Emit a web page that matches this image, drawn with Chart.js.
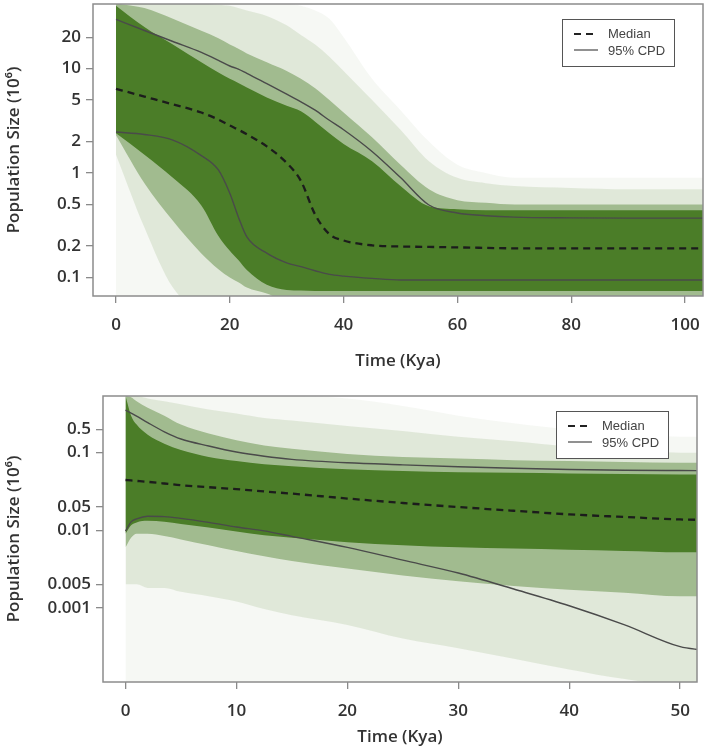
<!DOCTYPE html>
<html>
<head>
<meta charset="utf-8">
<script src="https://cdn.jsdelivr.net/npm/chart.js@4.4.1/dist/chart.umd.min.js"></script>
<style>
  html, body { margin: 0; padding: 0; background: #fff; }
  #top { position: absolute; left: 0; top: 0; width: 708px; height: 375px; }
  #bot { position: absolute; left: 0; top: 375px; width: 708px; height: 376px; }
</style>
</head>
<body>
<div id="top"><canvas id="c1"></canvas></div>
<div id="bot"><canvas id="c2"></canvas></div>
<script>
// ---- top panel (0 - 100 Kya) ----
const topTime = [0, 5, 10, 15, 18, 20, 21.5, 23, 26.5, 30, 32.5, 35, 37.5, 40, 45, 50, 55, 60, 65, 70, 80, 90, 100, 104];
const topMedian = [6.41, 5.4, 4.55, 3.8, 3.25, 2.85, 2.6, 2.35, 1.8, 1.25, 0.84, 0.4, 0.26, 0.226, 0.203, 0.198, 0.196, 0.194, 0.192, 0.19, 0.19, 0.19, 0.19, 0.19];
const topUpper = [29.6, 23.2, 18.2, 14.3, 12.0, 10.6, 9.9, 9.0, 7.2, 5.7, 4.8, 4.0, 3.2, 2.6, 1.61, 0.905, 0.494, 0.414, 0.39, 0.378, 0.372, 0.37, 0.37, 0.37];
const topLower = [2.47, 2.34, 2.07, 1.47, 1.07, 0.64, 0.38, 0.244, 0.171, 0.138, 0.127, 0.116, 0.107, 0.103, 0.098, 0.0946, 0.0946, 0.0946, 0.0946, 0.0946, 0.0946, 0.0946, 0.0946, 0.0946];
// density envelopes of the sampled trajectories (dense core -> faint fringe)
const topCoreHi = [40, 25, 17, 11.5, 9.2, 8.0, 7.3, 6.6, 5.3, 4.4, 3.9, 3.1, 2.4, 1.9, 1.3, 0.75, 0.48, 0.45, 0.44, 0.44, 0.44, 0.44, 0.44, 0.44];
const topCoreLo = [2.4, 1.5, 0.9, 0.49, 0.25, 0.18, 0.147, 0.118, 0.085, 0.076, 0.075, 0.074, 0.074, 0.074, 0.074, 0.074, 0.074, 0.074, 0.074, 0.074, 0.074, 0.074, 0.074, 0.074];
const topMidHi = [42, 38, 30, 23, 19.5, 17, 15.5, 14, 11.5, 9.5, 8, 6.5, 5, 3.8, 2.2, 1.2, 0.7, 0.55, 0.52, 0.5, 0.5, 0.5, 0.5, 0.5];
const topMidLo = [2.3, 0.8, 0.35, 0.17, 0.12, 0.1, 0.09, 0.08, 0.07, 0.06, 0.06, 0.06, 0.06, 0.06, 0.06, 0.06, 0.06, 0.06, 0.06, 0.06, 0.06, 0.06, 0.06, 0.06];
const topFaintHi = [42, 42, 42, 42, 41, 40, 38, 36, 32, 26, 21, 17, 13, 9.5, 5, 2.6, 1.3, 0.9, 0.8, 0.75, 0.72, 0.7, 0.7, 0.7];
const topFaintLo = [1.5, 0.3, 0.08, 0.05, 0.05, 0.05, 0.05, 0.05, 0.05, 0.05, 0.05, 0.05, 0.05, 0.05, 0.05, 0.05, 0.05, 0.05, 0.05, 0.05, 0.05, 0.05, 0.05, 0.05];
const topHazeHi = [42, 42, 42, 42, 42, 42, 42, 42, 42, 42, 40, 36, 30, 20, 8, 4, 2, 1.2, 1.0, 0.9, 0.9, 0.9, 0.9, 0.9];
const topHazeLo = [0.05, 0.05, 0.05, 0.05, 0.05, 0.05, 0.05, 0.05, 0.05, 0.05, 0.05, 0.05, 0.05, 0.05, 0.05, 0.05, 0.05, 0.05, 0.05, 0.05, 0.05, 0.05, 0.05, 0.05];
const topXTicks = [0, 20, 40, 60, 80, 100];
const topYTicks = [20, 10, 5, 2, 1, 0.5, 0.2, 0.1];
const topYLabels = ['20', '10', '5', '2', '1', '0.5', '0.2', '0.1'];

// ---- bottom panel (0 - 50 Kya) ----
const botTime = [0, 0.5, 1, 2, 3.5, 5, 7.5, 10, 12.5, 15, 20, 25, 30, 35, 40, 45, 50, 52];
const botMedian = [0.222, 0.219, 0.216, 0.21, 0.2, 0.19, 0.179, 0.169, 0.158, 0.148, 0.128, 0.112, 0.0994, 0.089, 0.08, 0.074, 0.0687, 0.068];
const botUpper = [1.77, 1.62, 1.48, 1.22, 0.93, 0.75, 0.61, 0.51, 0.45, 0.41, 0.37, 0.348, 0.329, 0.314, 0.303, 0.297, 0.294, 0.293];
const botLower = [0.0487, 0.064, 0.07, 0.0755, 0.0748, 0.071, 0.063, 0.055, 0.049, 0.0416, 0.03, 0.0205, 0.014, 0.0087, 0.0053, 0.003, 0.00157, 0.00142];
const botCoreHi = [2.7, 1.5, 1.15, 0.85, 0.65, 0.54, 0.44, 0.39, 0.355, 0.335, 0.305, 0.29, 0.28, 0.275, 0.27, 0.265, 0.262, 0.26];
const botCoreLo = [0.045, 0.058, 0.063, 0.066, 0.064, 0.06, 0.054, 0.048, 0.043, 0.04, 0.035, 0.032, 0.03, 0.029, 0.028, 0.027, 0.026, 0.026];
const botMidHi = [2.7, 2.6, 2.3, 1.9, 1.5, 1.15, 0.88, 0.72, 0.62, 0.56, 0.48, 0.44, 0.42, 0.4, 0.39, 0.38, 0.37, 0.37];
const botMidLo = [0.03, 0.04, 0.045, 0.045, 0.042, 0.038, 0.032, 0.027, 0.023, 0.02, 0.016, 0.013, 0.011, 0.0095, 0.0085, 0.0078, 0.007, 0.007];
const botFaintHi = [2.7, 2.7, 2.7, 2.5, 2.3, 2.1, 1.8, 1.6, 1.4, 1.3, 1.1, 0.95, 0.8, 0.7, 0.6, 0.55, 0.5, 0.5];
const botFaintLo = [0.01, 0.01, 0.01, 0.009, 0.009, 0.008, 0.007, 0.006, 0.0048, 0.004, 0.003, 0.002, 0.0015, 0.0011, 0.0008, 0.0006, 0.0005, 0.0005];
const botHazeHi = [2.7, 2.7, 2.7, 2.7, 2.7, 2.7, 2.7, 2.7, 2.7, 2.7, 2.5, 2.0, 1.5, 1.2, 1.0, 0.9, 0.8, 0.8];
const botHazeLo = [0.0004, 0.0004, 0.0004, 0.0004, 0.0004, 0.0004, 0.0004, 0.0004, 0.0004, 0.0004, 0.0004, 0.0004, 0.0004, 0.0004, 0.0004, 0.0004, 0.0004, 0.0004];
const botXTicks = [0, 10, 20, 30, 40, 50];
// tick positions on the axis and the labels printed at them
const botYTicks = [1, 0.5, 0.1, 0.05, 0.01, 0.005];
const botYLabels = ['0.5', '0.1', '0.05', '0.01', '0.005', '0.001'];

const legendLabels = ['Median', '95% CPD'];

const GREEN = '75,125,40';
const FONT = '"Open Sans", "DejaVu Sans", sans-serif';

function pts(t, v) { return t.map((x, i) => ({ x: x, y: v[i] })); }

function band(t, hi, lo, color) {
  const base = { pointRadius: 0, borderWidth: 0, borderColor: 'rgba(0,0,0,0)', cubicInterpolationMode: 'monotone' };
  return [
    Object.assign({ data: pts(t, hi), fill: '+1', backgroundColor: color }, base),
    Object.assign({ data: pts(t, lo), fill: false }, base)
  ];
}

function lines(t, med, up, lo) {
  const base = { pointRadius: 0, fill: false, cubicInterpolationMode: 'monotone' };
  return [
    Object.assign({ data: pts(t, med), borderColor: '#1c1c1c', borderWidth: 2.3, borderDash: [7, 5] }, base),
    Object.assign({ data: pts(t, up), borderColor: '#4a4a4a', borderWidth: 1.4 }, base),
    Object.assign({ data: pts(t, lo), borderColor: '#4a4a4a', borderWidth: 1.4 }, base)
  ];
}

const frame = {
  id: 'frame',
  afterDatasetsDraw(chart) {
    const a = chart.chartArea, ctx = chart.ctx;
    ctx.save();
    ctx.strokeStyle = '#8c8c8c';
    ctx.lineWidth = 1.5;
    ctx.strokeRect(a.left, a.top, a.right - a.left, a.bottom - a.top);
    ctx.restore();
  }
};

const cpdLegend = {
  id: 'cpdLegend',
  afterDraw(chart) {
    const a = chart.chartArea, ctx = chart.ctx;
    const w = 112, h = 47;
    const x0 = a.right - 29 - w, y0 = a.top + 15;
    ctx.save();
    ctx.fillStyle = '#fff';
    ctx.fillRect(x0, y0, w, h);
    ctx.strokeStyle = '#555';
    ctx.lineWidth = 1;
    ctx.strokeRect(x0 + 0.5, y0 + 0.5, w, h);
    ctx.lineWidth = 2;
    ctx.strokeStyle = '#222';
    ctx.setLineDash([7, 5]);
    ctx.beginPath(); ctx.moveTo(x0 + 12, y0 + 15); ctx.lineTo(x0 + 36, y0 + 15); ctx.stroke();
    ctx.setLineDash([]);
    ctx.lineWidth = 1.3;
    ctx.strokeStyle = '#555';
    ctx.beginPath(); ctx.moveTo(x0 + 12, y0 + 31); ctx.lineTo(x0 + 36, y0 + 31); ctx.stroke();
    ctx.fillStyle = '#444';
    ctx.font = '13px "Liberation Sans", Arial, sans-serif';
    ctx.textBaseline = 'middle';
    ctx.fillText(legendLabels[0], x0 + 46, y0 + 15);
    ctx.fillText(legendLabels[1], x0 + 46, y0 + 32);
    ctx.restore();
  }
};

function makeChart(id, p) {
  const datasets = [].concat(
    lines(p.t, p.med, p.up, p.lo),
    band(p.t, p.coreHi, p.coreLo, 'rgb(' + GREEN + ')'),
    band(p.t, p.midHi, p.midLo, 'rgba(' + GREEN + ',0.42)'),
    band(p.t, p.faintHi, p.faintLo, 'rgba(' + GREEN + ',0.13)'),
    band(p.t, p.hazeHi, p.hazeLo, 'rgba(' + GREEN + ',0.05)')
  );
  const tickFont = { family: FONT, size: 17, weight: '600' };
  return new Chart(document.getElementById(id), {
    type: 'line',
    data: { datasets: datasets },
    options: {
      responsive: true,
      maintainAspectRatio: false,
      animation: false,
      devicePixelRatio: 1,
      layout: { padding: { left: 0, top: p.padTop, right: p.padRight, bottom: 0 } },
      plugins: { legend: { display: false }, tooltip: { enabled: false } },
      scales: {
        x: {
          type: 'linear', min: p.xMin, max: p.xMax,
          afterBuildTicks: s => { s.ticks = p.xTicks.map(v => ({ value: v })); },
          afterFit: s => { s.height = p.xH; s.paddingLeft = 0; s.paddingRight = 0; },
          grid: { drawOnChartArea: false, tickLength: 7, color: '#8a8a8a', lineWidth: 1.3 },
          border: { display: false },
          ticks: { font: tickFont, color: '#333', padding: 12, maxRotation: 0, autoSkip: false },
          title: { display: true, text: 'Time (Kya)', font: tickFont, color: '#333', padding: { top: 0, bottom: 4 } }
        },
        y: {
          type: 'logarithmic', min: p.yMin, max: p.yMax,
          afterBuildTicks: s => { s.ticks = p.yTicks.map(v => ({ value: v })); },
          afterFit: s => { s.width = p.yW; s.paddingTop = 0; s.paddingBottom = 0; },
          grid: { drawOnChartArea: false, tickLength: 7, color: '#8a8a8a', lineWidth: 1.3 },
          border: { display: false },
          ticks: { font: tickFont, color: '#333', padding: 5, autoSkip: false, callback: (v, i) => p.yLabels[i] },
          title: { display: true, text: 'Population Size (10\u2076)', font: tickFont, color: '#333', padding: { top: 4, bottom: 0 } }
        }
      }
    },
    plugins: [frame, cpdLegend]
  });
}

makeChart('c1', {
  t: topTime, med: topMedian, up: topUpper, lo: topLower,
  coreHi: topCoreHi, coreLo: topCoreLo, midHi: topMidHi, midLo: topMidLo,
  faintHi: topFaintHi, faintLo: topFaintLo, hazeHi: topHazeHi, hazeLo: topHazeLo,
  xMin: -4.04, xMax: 103.16, yMin: 0.0664, yMax: 41.6,
  xTicks: topXTicks, yTicks: topYTicks, yLabels: topYLabels,
  padTop: 4, padRight: 5, xH: 79, yW: 93
});

makeChart('c2', {
  t: botTime, med: botMedian, up: botUpper, lo: botLower,
  coreHi: botCoreHi, coreLo: botCoreLo, midHi: botMidHi, midLo: botMidLo,
  faintHi: botFaintHi, faintLo: botFaintLo, hazeHi: botHazeHi, hazeLo: botHazeLo,
  xMin: -2.03, xMax: 51.52, yMin: 0.00055, yMax: 2.69,
  xTicks: botXTicks, yTicks: botYTicks, yLabels: botYLabels,
  padTop: 21, padRight: 11, xH: 69, yW: 103
});
</script>
</body>
</html>
